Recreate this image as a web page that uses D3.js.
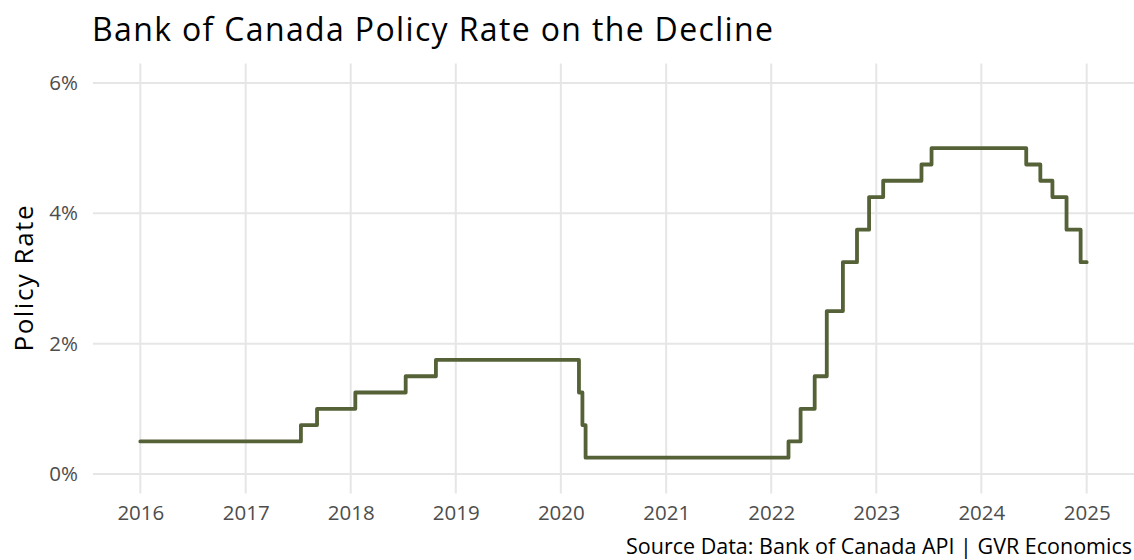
<!DOCTYPE html>
<html>
<head>
<meta charset="utf-8">
<script src="https://cdn.jsdelivr.net/npm/d3@7"></script>
<style>
  body { margin: 0; background: #fff; }
  text { font-family: "Open Sans", "Noto Sans", sans-serif; }
</style>
</head>
<body>
<div id="chart"></div>
<script>
// Define SVG area dimensions
var svgWidth = 1134;
var svgHeight = 560;

// Policy rate change dates and the rate that applies from that date
var changeDates = [
  "2016-01-01", "2017-07-12", "2017-09-06", "2018-01-17", "2018-07-11",
  "2018-10-24", "2020-03-04", "2020-03-16", "2020-03-27", "2022-03-02",
  "2022-04-13", "2022-06-01", "2022-07-13", "2022-09-07", "2022-10-26",
  "2022-12-07", "2023-01-25", "2023-06-07", "2023-07-12", "2024-06-05",
  "2024-07-24", "2024-09-04", "2024-10-23", "2024-12-11", "2025-01-01"
];
var rates = [
  0.50, 0.75, 1.00, 1.25, 1.50,
  1.75, 1.25, 0.75, 0.25, 0.50,
  1.00, 1.50, 2.50, 3.25, 3.75,
  4.25, 4.50, 4.75, 5.00, 4.75,
  4.50, 4.25, 3.75, 3.25, 3.25
];
var yearTicks = [2016, 2017, 2018, 2019, 2020, 2021, 2022, 2023, 2024, 2025];
var rateTicks = [0, 2, 4, 6];

var parseDate = d3.timeParse("%Y-%m-%d");
var data = changeDates.map(function (d, i) {
  return { date: parseDate(d), rate: rates[i] };
});

// panel edges
var panel = { left: 93, right: 1134, top: 63.5, bottom: 493.5 };

var svg = d3.select("#chart")
  .append("svg")
  .attr("width", svgWidth)
  .attr("height", svgHeight);

// x scale with ggplot-like 5% expansion
var xStart = new Date(2016, 0, 1), xEnd = new Date(2025, 0, 1);
var span = xEnd - xStart;
var xScale = d3.scaleTime()
  .domain([new Date(+xStart - span * 0.05), new Date(+xEnd + span * 0.05)])
  .range([panel.left, panel.right]);

var yScale = d3.scaleLinear()
  .domain([-0.3, 6.3])
  .range([panel.bottom, panel.top]);

var gridColor = "#e6e6e6";

// horizontal gridlines
svg.append("g")
  .selectAll("line")
  .data(rateTicks)
  .enter()
  .append("line")
  .attr("x1", panel.left)
  .attr("x2", panel.right)
  .attr("y1", d => yScale(d))
  .attr("y2", d => yScale(d))
  .attr("stroke", gridColor)
  .attr("stroke-width", 2);

// vertical gridlines
svg.append("g")
  .selectAll("line")
  .data(yearTicks)
  .enter()
  .append("line")
  .attr("x1", d => xScale(new Date(d, 0, 1)))
  .attr("x2", d => xScale(new Date(d, 0, 1)))
  .attr("y1", panel.top)
  .attr("y2", panel.bottom)
  .attr("stroke", gridColor)
  .attr("stroke-width", 2);

// x axis labels
var bottomAxis = d3.axisBottom(xScale)
  .tickValues(yearTicks.map(y => new Date(y, 0, 1)))
  .tickFormat(d3.timeFormat("%Y"))
  .tickSize(0)
  .tickPadding(12);

var xAxis = svg.append("g")
  .attr("transform", `translate(0, ${panel.bottom})`)
  .call(bottomAxis);
xAxis.select(".domain").remove();
xAxis.selectAll("text")
  .attr("font-size", 20.5)
  .attr("fill", "#4d4d4d");

// y axis labels
var leftAxis = d3.axisLeft(yScale)
  .tickValues(rateTicks)
  .tickFormat(d => d + "%")
  .tickSize(0)
  .tickPadding(15);

var yAxis = svg.append("g")
  .attr("transform", `translate(${panel.left}, 0)`)
  .call(leftAxis);
yAxis.select(".domain").remove();
yAxis.selectAll("text")
  .attr("font-size", 20.5)
  .attr("fill", "#4d4d4d");

// step line
var line = d3.line()
  .x(d => xScale(d.date))
  .y(d => yScale(d.rate))
  .curve(d3.curveStepAfter);

svg.append("path")
  .datum(data)
  .attr("d", line)
  .attr("fill", "none")
  .attr("stroke", "#556136")
  .attr("stroke-width", 3.8)
  .attr("stroke-linejoin", "round")
  .attr("stroke-linecap", "round");

// title
svg.append("text")
  .attr("x", 92)
  .attr("y", 41)
  .attr("font-size", 32)
  .attr("textLength", 681)
  .attr("lengthAdjust", "spacing")
  .attr("fill", "#000")
  .text("Bank of Canada Policy Rate on the Decline");

// y axis title
svg.append("text")
  .attr("transform", `translate(33, ${(panel.top + panel.bottom) / 2}) rotate(-90)`)
  .attr("text-anchor", "middle")
  .attr("font-size", 26)
  .attr("textLength", 146)
  .attr("lengthAdjust", "spacing")
  .attr("fill", "#000")
  .text("Policy Rate");

// caption
svg.append("text")
  .attr("x", 1132)
  .attr("y", 554)
  .attr("text-anchor", "end")
  .attr("font-size", 21.5)
  .attr("fill", "#000")
  .text("Source Data: Bank of Canada API | GVR Economics");
</script>
</body>
</html>
